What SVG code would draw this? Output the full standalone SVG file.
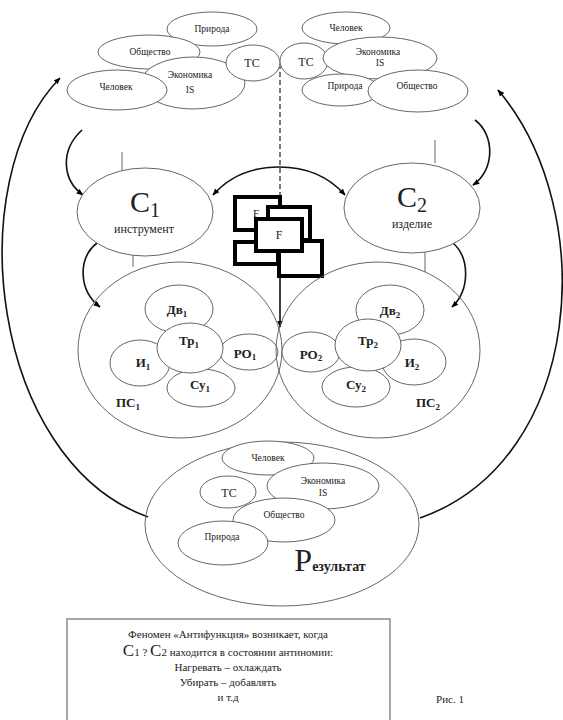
<svg xmlns="http://www.w3.org/2000/svg" width="563" height="720" viewBox="0 0 563 720" font-family="'Liberation Serif', 'Times New Roman', 'DejaVu Serif', 'Noto Serif', serif">
<defs>
<marker id="ah" viewBox="0 0 10 10" refX="9" refY="5" markerWidth="7" markerHeight="7" orient="auto-start-reverse" markerUnits="userSpaceOnUse">
<path d="M0,1 L10,5 L0,9 Z" fill="#000"/>
</marker>
<style>
.e{fill:#fff;stroke:#666;stroke-width:1}
.o{fill:none;stroke:#666;stroke-width:1}
.t{font-family:'Liberation Serif','Times New Roman','DejaVu Serif','Noto Serif',serif;fill:#222;text-anchor:middle}
.s{font-size:9.5px}
.m{font-size:13px;font-weight:bold}
.a{fill:none;stroke:#111;stroke-width:1.6}
.box{fill:#fff;stroke:#000;stroke-width:4}
.tick{stroke:#666;stroke-width:1}
</style>
</defs>
<rect width="563" height="720" fill="#fff"/>

<g id="connectors">
<line x1="280" y1="64" x2="280" y2="212" stroke="#222" stroke-width="1.2" stroke-dasharray="5,3"/>
<path class="a" d="M280 255 L280 327" marker-end="url(#ah)"/>
<path class="a" d="M279 167 C250 167 228 178 213 195" marker-end="url(#ah)"/>
<path class="a" d="M279 167 C308 167 330 178 345 195" marker-end="url(#ah)"/>
<path class="a" d="M82 130 C60 150 62 180 83 195" marker-end="url(#ah)"/>
<path class="a" d="M97 243 C78 258 78 290 100 307" marker-end="url(#ah)"/>
<path class="a" d="M475 120 C495 135 495 170 473 185" marker-end="url(#ah)"/>
<path class="a" d="M453 243 C470 258 470 290 452 307" marker-end="url(#ah)"/>
<path class="a" d="M148 517 C-10 460 -40 180 60 78" marker-end="url(#ah)"/>
<path class="a" d="M420 518 C585 460 600 210 498 90" marker-end="url(#ah)"/>
<line class="tick" x1="122" y1="152" x2="122" y2="170"/>
<line class="tick" x1="133" y1="253" x2="133" y2="267"/>
<line class="tick" x1="435" y1="140" x2="435" y2="163"/>
<line class="tick" x1="425" y1="252" x2="425" y2="272"/>
</g>

<g id="cluster-left">
<ellipse class="e" cx="212" cy="29" rx="45" ry="17"/>
<text class="t s" x="212" y="32">Природа</text>
<ellipse class="e" cx="149" cy="52" rx="51" ry="17"/>
<text class="t s" x="150" y="55">Общество</text>
<ellipse class="e" cx="193" cy="83" rx="52" ry="26"/>
<text class="t s" x="190" y="78">Экономика</text>
<text class="t s" x="190" y="93">IS</text>
<ellipse class="e" cx="253" cy="63" rx="27" ry="18"/>
<text class="t" x="252" y="67" font-size="12">ТС</text>
<ellipse class="e" cx="117" cy="90" rx="50" ry="20"/>
<text class="t s" x="116" y="90">Человек</text>
</g>

<g id="cluster-right">
<ellipse class="e" cx="346" cy="28" rx="44" ry="16"/>
<text class="t s" x="346" y="31">Человек</text>
<ellipse class="e" cx="304" cy="61" rx="24" ry="18"/>
<text class="t" x="306" y="66" font-size="12">ТС</text>
<ellipse class="e" cx="380" cy="58" rx="57" ry="21"/>
<text class="t s" x="378" y="55">Экономика</text>
<text class="t s" x="380" y="66">IS</text>
<ellipse class="e" cx="341" cy="90" rx="39" ry="16"/>
<text class="t s" x="345" y="89">Природа</text>
<ellipse class="e" cx="418" cy="91" rx="50" ry="21"/>
<text class="t s" x="417" y="89">Общество</text>
</g>

<g id="c1">
<ellipse class="e" cx="145" cy="212" rx="68" ry="44"/>
<text class="t" x="145" y="212" font-size="30">C<tspan font-size="20" dy="5">1</tspan></text>
<text class="t" x="144" y="233" font-size="12">инструмент</text>
</g>

<g id="c2">
<ellipse class="e" cx="412" cy="208" rx="68" ry="45"/>
<text class="t" x="412" y="207" font-size="30">C<tspan font-size="20" dy="5">2</tspan></text>
<text class="t" x="412" y="228" font-size="12">изделие</text>
</g>

<g id="f-boxes">
<rect class="box" x="235" y="197" width="45" height="33"/>
<text class="t" x="256" y="217" font-size="11">F</text>
<rect class="box" x="268" y="207" width="42" height="33"/>
<rect class="box" x="235" y="242" width="43" height="22"/>
<rect class="box" x="279" y="241" width="43" height="35"/>
<rect class="box" x="256" y="219" width="46" height="32"/>
<text class="t" x="279" y="239" font-size="12">F</text>
</g>

<g id="ps1">
<ellipse class="o" cx="180" cy="350" rx="102" ry="88"/>
<ellipse class="e" cx="179" cy="309" rx="34" ry="24"/>
<text class="t m" x="177" y="314">Дв<tspan font-size="9" dy="3">1</tspan></text>
<ellipse class="e" cx="140" cy="363" rx="30" ry="23"/>
<text class="t m" x="143" y="367">И<tspan font-size="9" dy="3">1</tspan></text>
<ellipse class="e" cx="249" cy="352" rx="29" ry="18"/>
<text class="t m" x="245" y="358">РО<tspan font-size="9" dy="2">1</tspan></text>
<ellipse class="e" cx="201" cy="388" rx="34" ry="19"/>
<text class="t m" x="200" y="389">Су<tspan font-size="9" dy="3">1</tspan></text>
<ellipse class="e" cx="190" cy="348" rx="33" ry="25"/>
<text class="t m" x="189" y="345">Тр<tspan font-size="9" dy="3">1</tspan></text>
<text class="t m" x="128" y="407">ПС<tspan font-size="9" dy="3">1</tspan></text>
</g>

<g id="ps2">
<ellipse class="o" cx="378" cy="350" rx="102" ry="88"/>
<ellipse class="e" cx="390" cy="310" rx="34" ry="25"/>
<text class="t m" x="390" y="315">Дв<tspan font-size="9" dy="3">2</tspan></text>
<ellipse class="e" cx="311" cy="352" rx="29" ry="20"/>
<text class="t m" x="311" y="359">РО<tspan font-size="9" dy="2">2</tspan></text>
<ellipse class="e" cx="414" cy="362" rx="32" ry="23"/>
<text class="t m" x="412" y="367">И<tspan font-size="9" dy="3">2</tspan></text>
<ellipse class="e" cx="356" cy="387" rx="34" ry="20"/>
<text class="t m" x="356" y="389">Су<tspan font-size="9" dy="3">2</tspan></text>
<ellipse class="e" cx="368" cy="345" rx="33" ry="26"/>
<text class="t m" x="368" y="345">Тр<tspan font-size="9" dy="3">2</tspan></text>
<text class="t m" x="428" y="407">ПС<tspan font-size="9" dy="3">2</tspan></text>
</g>

<g id="result">
<ellipse class="o" cx="282" cy="524" rx="137" ry="82"/>
<ellipse class="e" cx="268" cy="458" rx="46" ry="17"/>
<text class="t s" x="268" y="461">Человек</text>
<ellipse class="e" cx="323" cy="486" rx="56" ry="23"/>
<text class="t s" x="323" y="484">Экономика</text>
<text class="t s" x="323" y="496">IS</text>
<ellipse class="e" cx="228" cy="492" rx="28" ry="16"/>
<text class="t" x="229" y="497" font-size="12">ТС</text>
<ellipse class="e" cx="284" cy="520" rx="51" ry="22"/>
<text class="t s" x="284" y="518">Общество</text>
<ellipse class="e" cx="223" cy="543" rx="45" ry="22"/>
<text class="t s" x="222" y="540">Природа</text>
<text class="t" x="330" y="571" font-size="14" font-weight="bold"><tspan font-size="32" font-weight="normal">Р</tspan>езультат</text>
</g>

<g id="note">
<rect x="67" y="619" width="323" height="115" fill="#fff" stroke="#7f947f" stroke-width="1.5"/>
<text class="t" x="228" y="638" font-size="11">Феномен «Антифункция» возникает, когда</text>
<text class="t" x="228" y="656" font-size="11"><tspan font-size="17">С</tspan>1 ? <tspan font-size="17">С</tspan>2 находится в состоянии антиномии:</text>
<text class="t" x="228" y="671" font-size="11">Нагревать – охлаждать</text>
<text class="t" x="228" y="686" font-size="11">Убирать – добавлять</text>
<text class="t" x="228" y="701" font-size="11">и т.д</text>
<text class="t" x="450" y="703" font-size="11">Рис. 1</text>
</g>
</svg>
